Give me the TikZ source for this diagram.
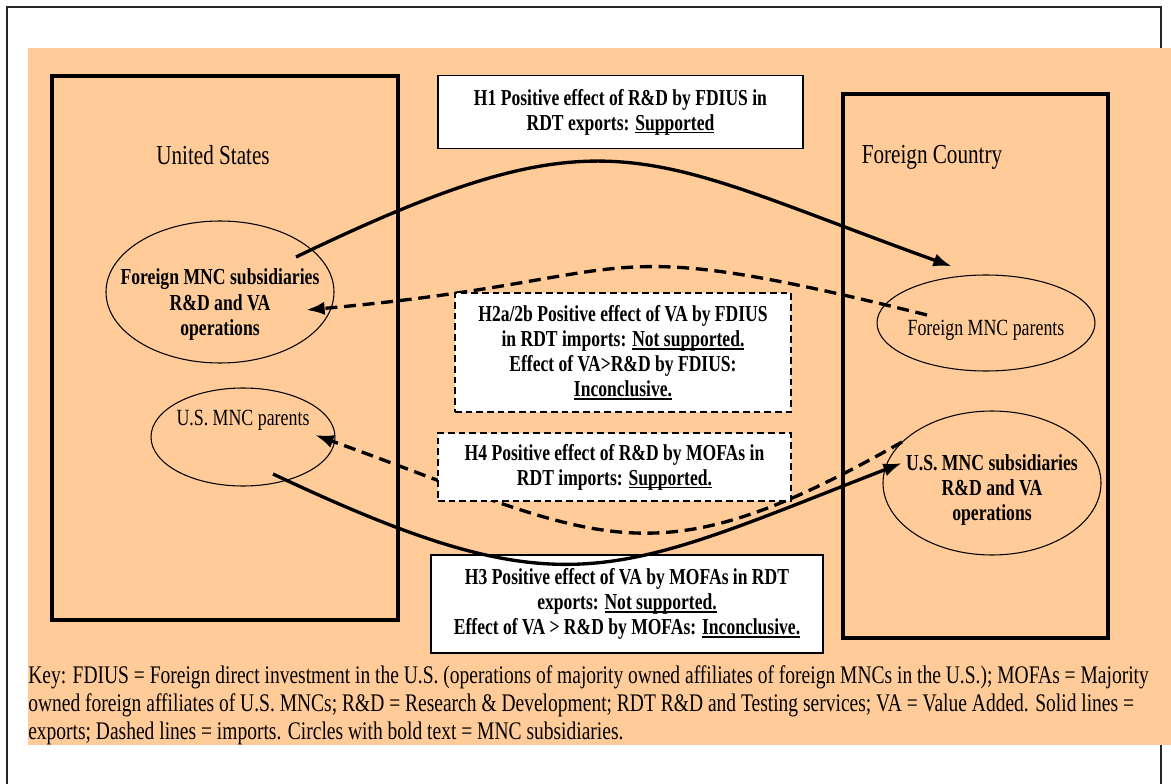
\documentclass[tikz,border=0pt]{standalone}
\usepackage{fontspec}
\setmainfont{Liberation Serif}[FakeStretch=0.77]
\usetikzlibrary{shapes.geometric,arrows.meta,calc}
\definecolor{peach}{RGB}{255,204,153}
\newcommand{\undl}[1]{\setbox0\hbox{#1}\rlap{\rule[-2.4pt]{\wd0}{1.1pt}}\box0}

\begin{document}
\begin{tikzpicture}[x=0.75pt, y=-0.75pt, >={Latex[length=14pt,width=10pt]},
    hyp/.style={draw, fill=white, align=center, inner sep=0pt,
        font=\bfseries\fontsize{17.1}{18.75}\selectfont},
    hypsolid/.style={hyp, line width=1.1pt},
    hypdash/.style={hyp, line width=1.8pt, dash pattern=on 5pt off 3pt},
    org/.style={draw, ellipse, line width=0.8pt, inner sep=0pt},
    orgtxt/.style={align=center, font=\fontsize{17.4}{18.9}\selectfont},
    orgbold/.style={orgtxt, font=\bfseries\fontsize{17.2}{18.9}\selectfont},
    flow/.style={line width=2.5pt, ->},
    flowdash/.style={flow, dash pattern=on 9pt off 5pt},
    country/.style={draw, line width=3.4pt},
    countrytxt/.style={font=\fontsize{20.6}{23}\selectfont}]
\useasboundingbox (0,0) rectangle (1171,784);
\draw[line width=1pt, black!85](7,784)--(7,7)--(1161,7)--(1161,784);
\fill[peach](28,48) rectangle (1171,745);

% the two countries
\draw[country](52,76) rectangle (398,620);
\draw[country](843,94) rectangle (1108,638);
\node[countrytxt] (us) at (213,155) {United States};
\node[countrytxt] (fc) at (932,157) {Foreign Country};

% firms
\node[org, minimum width=171pt, minimum height=106.5pt,
    label={[orgbold, yshift=-9.4pt]center:{Foreign MNC subsidiaries\\R\&D and VA\\operations}}] (fsub) at (220,292) {};
\node[org, minimum width=138pt, minimum height=73.5pt,
    label={[orgtxt, yshift=12.75pt]center:{U.S. MNC parents}}] (upar) at (243,437) {};
\node[org, minimum width=163.5pt, minimum height=72pt,
    label={[orgtxt, yshift=-5.25pt]center:{Foreign MNC parents}}] (fpar) at (986,323) {};
\node[org, minimum width=163.5pt, minimum height=108pt,
    label={[orgbold, yshift=-5.25pt]center:{U.S. MNC subsidiaries\\R\&D and VA\\operations}}] (usub) at (992,483) {};

% flows
\draw[flow]($(fsub)+(76,-35)$) .. controls +(314,-151) and +(-314,-113) .. ($(fpar.north)+(-34,-8)$);
\draw[flowdash]($(fpar)+(-59,-8)$) .. controls +(-350,-87) and +(350,-31) .. ($(fsub)+(86,18)$);
\draw[flowdash]($(usub)+(-90,-41)$) .. controls +(-255,145) and +(286,103) .. ($(upar)+(72,-2)$);

% hypotheses
\node[hypsolid, minimum width=273.75pt, minimum height=54.75pt] (h1) at (620.5,112)
    {H1 Positive effect of R\&D by FDIUS in\\RDT exports: \undl{Supported}};
\node[hypdash, minimum width=252pt, minimum height=89.25pt] (h2) at (623,352.5)
    {H2a/2b Positive effect of VA by FDIUS\\in RDT imports: \undl{Not supported.}\\Effect of VA>R\&D by FDIUS:\\\undl{Inconclusive.}};
\node[hypdash, minimum width=264.75pt, minimum height=51pt] (h4) at (614.5,467)
    {H4 Positive effect of R\&D by MOFAs in\\RDT imports: \undl{Supported.}};
\node[hypsolid, minimum width=294pt, minimum height=73.5pt] (h3) at (627,604)
    {H3 Positive effect of VA by MOFAs in RDT\\exports: \undl{Not supported.}\\Effect of VA > R\&D by MOFAs: \undl{Inconclusive.}};

\draw[flow]($(upar)+(30,37)$) .. controls +(293,138) and +(-293,114) .. ($(usub)+(-90,-20)$);

\node[anchor=north west, inner sep=0pt, align=left, font=\fontsize{19}{21}\selectfont] (key) at (28,665)
    {Key: FDIUS = Foreign direct investment in the U.S. (operations of majority owned affiliates of foreign MNCs in the U.S.); MOFAs = Majority\\
    owned foreign affiliates of U.S. MNCs; R\&D = Research \& Development; RDT R\&D and Testing services; VA = Value Added. Solid lines =\\
    exports; Dashed lines = imports. Circles with bold text = MNC subsidiaries.};
\end{tikzpicture}
\end{document}
